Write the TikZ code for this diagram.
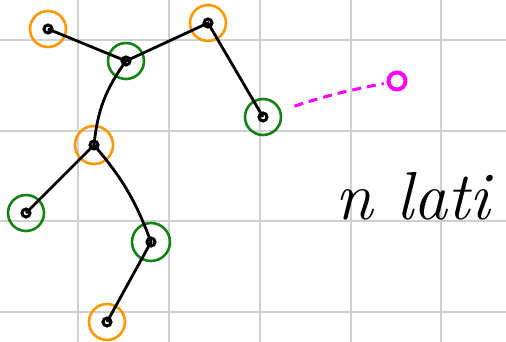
\documentclass[tikz,border=0pt]{standalone}
\usepackage{xcolor}
\definecolor{ringorange}{RGB}{255,152,0}
\definecolor{ringgreen}{RGB}{20,130,20}
\definecolor{pen}{RGB}{255,0,255}
\definecolor{gridgray}{RGB}{208,208,208}

\begin{document}
\begin{tikzpicture}[x=1pt, y=-1pt,
  vtx/.style={circle, draw, line width=2.6pt, minimum size=36pt, inner sep=0pt,
    path picture={\draw[black, line width=3pt] (path picture bounding box.center) circle (4pt);}},
  orng/.style={vtx, draw=ringorange},
  grn/.style={vtx, draw=ringgreen}]
\useasboundingbox (0,0) rectangle (506,342);
\foreach \x in {78,169,260,351,441} \draw[gridgray, line width=1.8pt] (\x,0) -- (\x,342);
\foreach \y in {40,131,221,312} \draw[gridgray, line width=1.8pt] (0,\y) -- (506,\y);
\node[orng] (A) at (48,29) {};
\node[grn] (B) at (126,61) {};
\node[orng] (C) at (208,23) {};
\node[grn] (D) at (263,117) {};
\node[orng, minimum size=38pt] (F) at (94,145) {};
\node[grn] (G) at (26,213) {};
\node[grn, minimum size=38pt] (H) at (151,242) {};
\node[orng] (I) at (107,322) {};
\node[circle, draw=pen, line width=4pt, minimum size=17pt, inner sep=0pt] (E) at (397,81) {};
\node[font=\fontsize{68}{68}\selectfont\itshape] (T) at (413,196) {n lati};
\draw[line width=2.8pt] (A.center) -- (B.center) -- (C.center) -- (D.center)
  (B.center) to[bend right=15] (F.center) -- (G.center)
  (F.center) to[bend left=10] (H.center) -- (I.center);
\draw[pen, line width=3pt, dash pattern=on 9pt off 6pt, shorten <=14pt, shorten >=3pt] (D) to[bend left=4] (E);
\end{tikzpicture}
\end{document}
